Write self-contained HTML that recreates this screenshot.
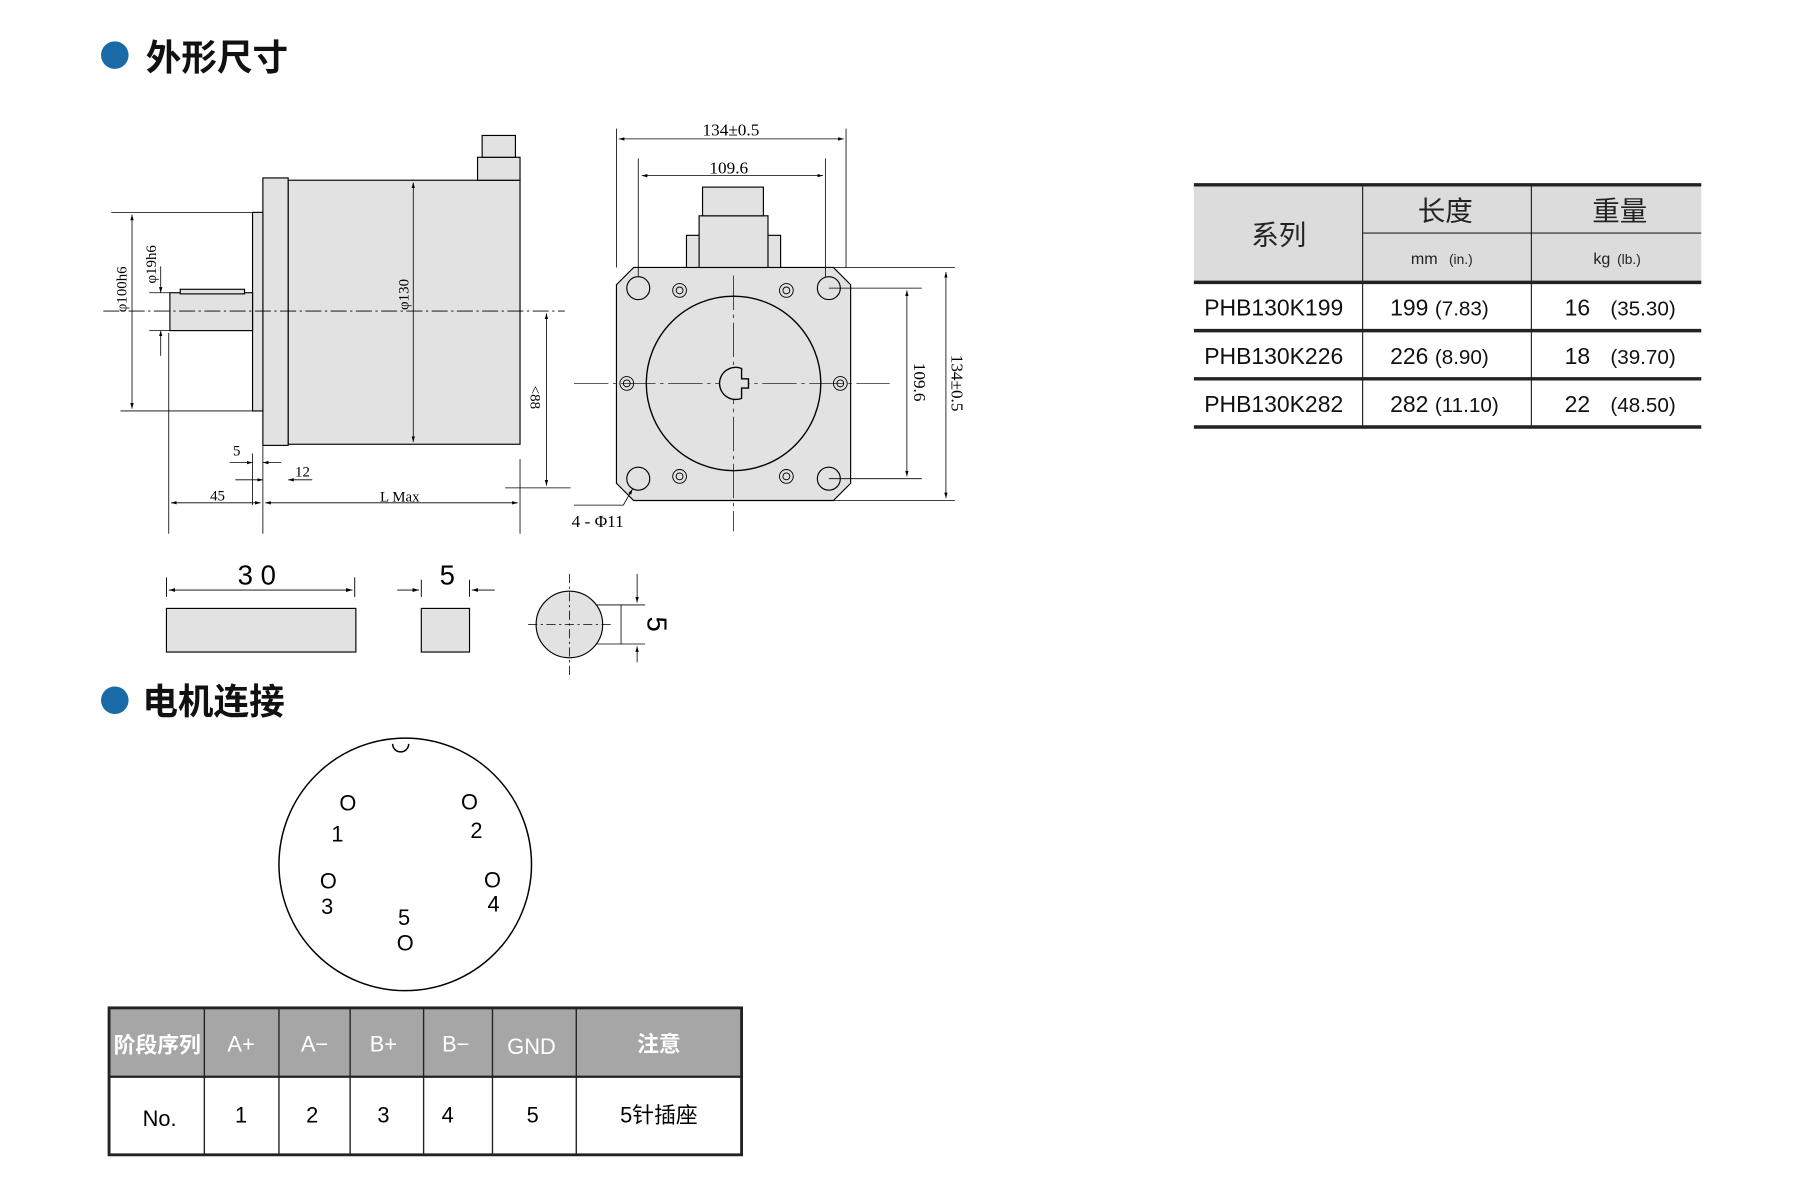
<!DOCTYPE html>
<html><head><meta charset="utf-8"><style>
html,body{margin:0;padding:0;background:#fff}
svg{display:block}
text{font-family:"Liberation Sans","Noto Sans CJK SC",sans-serif}
.s{font-family:"Liberation Serif","Noto Serif CJK SC",serif}
</style></head><body>
<svg width="1800" height="1195" viewBox="0 0 1568 1041" preserveAspectRatio="none" xmlns="http://www.w3.org/2000/svg">
<defs>
<marker id="a" viewBox="0 0 10 10" refX="10" refY="5" markerWidth="7" markerHeight="7" orient="auto-start-reverse"><path d="M0,2 L10,5 L0,8z" fill="#000"/></marker>
</defs>
<rect width="1568" height="1041" fill="#fff"/>
<circle cx="100" cy="48" r="12" fill="#1a6aa8"/>
<text x="127" y="61" font-size="31" font-weight="bold" fill="#111">外形尺寸</text>
<circle cx="100" cy="610" r="12" fill="#1a6aa8"/>
<text x="124" y="622" font-size="31" font-weight="bold" fill="#111">电机连接</text>

<g stroke="#000" stroke-width="1" fill="none">
<rect x="251" y="157" width="202" height="230" fill="#e2e2e2"/>
<rect x="229" y="155" width="22" height="233" fill="#e2e2e2"/>
<rect x="220" y="185" width="9" height="173" fill="#e2e2e2"/>
<rect x="148" y="255" width="72" height="33" fill="#e2e2e2"/>
<rect x="157" y="252" width="56" height="4" fill="#e2e2e2"/>
<rect x="416" y="137" width="37" height="20" fill="#e2e2e2"/>
<rect x="420" y="118" width="29" height="19" fill="#e2e2e2"/>
<line x1="90" y1="271" x2="492" y2="271" stroke-dasharray="14,3,2,3" stroke-width="0.8"/>
<line x1="97" y1="185" x2="220" y2="185" stroke-width="0.7"/>
<line x1="105" y1="358" x2="220" y2="358" stroke-width="0.7"/>
<line x1="115" y1="187" x2="115" y2="356" marker-start="url(#a)" marker-end="url(#a)" stroke-width="0.7"/>
<line x1="130" y1="255" x2="148" y2="255" stroke-width="0.7"/>
<line x1="130" y1="288" x2="148" y2="288" stroke-width="0.7"/>
<line x1="140" y1="232" x2="140" y2="255" marker-end="url(#a)" stroke-width="0.7"/>
<line x1="140" y1="310" x2="140" y2="288" marker-end="url(#a)" stroke-width="0.7"/>
<line x1="360" y1="159" x2="360" y2="385" marker-start="url(#a)" marker-end="url(#a)" stroke-width="0.7"/>
<line x1="476" y1="273" x2="476" y2="423" marker-start="url(#a)" marker-end="url(#a)" stroke-width="0.7"/>
<line x1="440" y1="425" x2="497" y2="425" stroke-width="0.7"/>
<line x1="147" y1="290" x2="147" y2="465" stroke-width="0.7"/>
<line x1="229" y1="388" x2="229" y2="465" stroke-width="0.7"/>
<line x1="453" y1="400" x2="453" y2="465" stroke-width="0.7"/>
<line x1="220" y1="395" x2="220" y2="440" stroke-width="0.7"/>
<line x1="149" y1="438" x2="227" y2="438" marker-start="url(#a)" marker-end="url(#a)" stroke-width="0.7"/>
<line x1="231" y1="438" x2="451" y2="438" marker-start="url(#a)" marker-end="url(#a)" stroke-width="0.7"/>
<line x1="200" y1="403" x2="220" y2="403" marker-end="url(#a)" stroke-width="0.7"/>
<line x1="245" y1="403" x2="229" y2="403" marker-end="url(#a)" stroke-width="0.7"/>
<line x1="205" y1="418" x2="229" y2="418" marker-end="url(#a)" stroke-width="0.7"/>
<line x1="272" y1="418" x2="251" y2="418" marker-end="url(#a)" stroke-width="0.7"/>

<path d="M552,233 L726,233 L741,248 L741,421 L726,436 L552,436 L537,421 L537,248Z" fill="#e2e2e2"/>
<rect x="598" y="205" width="82" height="28" fill="#e2e2e2"/>
<rect x="609" y="188" width="60" height="45" fill="#e2e2e2"/>
<rect x="612" y="163" width="53" height="25" fill="#e2e2e2"/>
<line x1="500" y1="334" x2="775" y2="334" stroke-dasharray="30,4,3,4" stroke-width="0.6"/>
<line x1="639" y1="240" x2="639" y2="463" stroke-dasharray="30,4,3,4" stroke-width="0.6"/>
<circle cx="639" cy="334" r="76" stroke-width="1.2"/>
<path d="M646,321 A14,14 0 1 0 646,347 L646,338 L652,338 L652,330 L646,330Z" fill="#e2e2e2" stroke-width="1.2"/>
<circle cx="556" cy="251" r="10"/><circle cx="722" cy="251" r="10"/>
<circle cx="556" cy="417" r="10"/><circle cx="722" cy="417" r="10"/>
<g stroke-width="0.8">
<circle cx="592" cy="253" r="6"/><circle cx="592" cy="253" r="3"/>
<circle cx="685" cy="253" r="6"/><circle cx="685" cy="253" r="3"/>
<circle cx="592" cy="415" r="6"/><circle cx="592" cy="415" r="3"/>
<circle cx="685" cy="415" r="6"/><circle cx="685" cy="415" r="3"/>
<circle cx="546" cy="334" r="6"/><circle cx="546" cy="334" r="3"/>
<circle cx="732" cy="334" r="6"/><circle cx="732" cy="334" r="3"/>
</g>
<g stroke-width="0.7">
<line x1="537" y1="112" x2="537" y2="233"/><line x1="737" y1="112" x2="737" y2="233"/>
<line x1="539" y1="121" x2="735" y2="121" marker-start="url(#a)" marker-end="url(#a)"/>
<line x1="556" y1="138" x2="556" y2="241"/><line x1="719" y1="138" x2="719" y2="241"/>
<line x1="559" y1="153" x2="717" y2="153" marker-start="url(#a)" marker-end="url(#a)"/>
<line x1="722" y1="251" x2="803" y2="251"/><line x1="722" y1="417" x2="803" y2="417"/>
<line x1="790" y1="253" x2="790" y2="415" marker-start="url(#a)" marker-end="url(#a)"/>
<line x1="720" y1="233" x2="832" y2="233"/><line x1="720" y1="436" x2="832" y2="436"/>
<line x1="824" y1="237" x2="824" y2="434" marker-start="url(#a)" marker-end="url(#a)"/>
<polyline points="500,440 543,440 551,426" marker-end="url(#a)"/>
</g>

<g stroke-width="0.8">
<line x1="145" y1="503" x2="145" y2="520"/><line x1="309" y1="503" x2="309" y2="520"/>
<line x1="147" y1="514" x2="307" y2="514" marker-start="url(#a)" marker-end="url(#a)"/>
<line x1="367" y1="505" x2="367" y2="520"/><line x1="409" y1="505" x2="409" y2="520"/>
<line x1="346" y1="514" x2="365" y2="514" marker-end="url(#a)"/>
<line x1="431" y1="514" x2="411" y2="514" marker-end="url(#a)"/>
</g>
<rect x="145" y="530" width="165" height="38" fill="#e2e2e2"/>
<rect x="367" y="530" width="42" height="38" fill="#e2e2e2"/>
<circle cx="496" cy="544" r="29" fill="#e2e2e2"/>
<g stroke-width="0.7">
<line x1="460" y1="544" x2="535" y2="544" stroke-dasharray="8,3,2,3"/>
<line x1="496" y1="500" x2="496" y2="590" stroke-dasharray="8,3,2,3"/>
<line x1="541" y1="527" x2="541" y2="561"/>
<line x1="520" y1="527" x2="562" y2="527"/><line x1="520" y1="561" x2="562" y2="561"/>
<line x1="555" y1="500" x2="555" y2="525" marker-end="url(#a)"/>
<line x1="555" y1="577" x2="555" y2="563" marker-end="url(#a)"/>
</g>

<circle cx="353" cy="753" r="110" stroke-width="1.3"/>
<path d="M342,648 A7,7 0 0 0 356,648" stroke-width="1.3" fill="#fff"/>
</g>

<g class="s" font-size="13" fill="#000">
<text transform="translate(110,272) rotate(-90)" class="s">φ100h6</text>
<text transform="translate(136,247) rotate(-90)" class="s">φ19h6</text>
<text transform="translate(356,270) rotate(-90)" class="s">φ130</text>
<text transform="translate(462,336) rotate(90)" class="s">&lt;88</text>
<text x="203" y="397" class="s">5</text>
<text x="257" y="415" class="s">12</text>
<text x="183" y="436" class="s">45</text>
<text x="331" y="437" class="s">L Max</text>
<text x="612" y="118" class="s" font-size="15">134±0.5</text>
<text x="618" y="151" class="s" font-size="15">109.6</text>
<text transform="translate(796,316) rotate(90)" class="s" font-size="15">109.6</text>
<text transform="translate(829,309) rotate(90)" class="s" font-size="15">134±0.5</text>
<text x="498" y="459" class="s" font-size="15">4 - Φ11</text>
</g>
<g font-size="24" fill="#000">
<text x="207" y="509">3 0</text>
<text x="383" y="509">5</text>
<text transform="translate(564,537) rotate(90)">5</text>
</g>
<g font-size="19" fill="#000" text-anchor="middle">
<text x="303" y="706">O</text><text x="409" y="705">O</text>
<text x="286" y="774">O</text><text x="429" y="773">O</text>
<text x="353" y="828">O</text>
<text x="294" y="733">1</text><text x="415" y="730">2</text>
<text x="285" y="796">3</text><text x="430" y="794">4</text>
<text x="352" y="806">5</text>
</g>

<rect x="95" y="878" width="551" height="60" fill="#a6a6a6"/>
<g stroke="#222" fill="none">
<rect x="95" y="878" width="551" height="128" stroke-width="2.5"/>
<line x1="95" y1="938" x2="646" y2="938" stroke-width="2"/>
<g stroke-width="1.2">
<line x1="178" y1="878" x2="178" y2="1006"/><line x1="243" y1="878" x2="243" y2="1006"/>
<line x1="305" y1="878" x2="305" y2="1006"/><line x1="369" y1="878" x2="369" y2="1006"/>
<line x1="429" y1="878" x2="429" y2="1006"/><line x1="502" y1="878" x2="502" y2="1006"/>
</g>
</g>
<g font-size="19" fill="#fff" text-anchor="middle">
<text x="137" y="917" font-weight="bold">阶段序列</text>
<text x="210" y="916">A+</text><text x="274" y="916">A−</text>
<text x="334" y="916">B+</text><text x="397" y="916">B−</text>
<text x="463" y="918">GND</text><text x="574" y="916" font-weight="bold">注意</text>
</g>
<g font-size="19" fill="#000" text-anchor="middle">
<text x="139" y="981">No.</text><text x="210" y="978">1</text><text x="272" y="978">2</text>
<text x="334" y="978">3</text><text x="390" y="978">4</text><text x="464" y="978">5</text>
<text x="574" y="978">5针插座</text>
</g>

<rect x="1040" y="161" width="442" height="85" fill="#dcdcdc"/>
<g stroke="#222" fill="none">
<line x1="1040" y1="161" x2="1482" y2="161" stroke-width="3"/>
<line x1="1187" y1="203" x2="1482" y2="203" stroke-width="1"/>
<line x1="1040" y1="246" x2="1482" y2="246" stroke-width="3"/>
<line x1="1040" y1="288" x2="1482" y2="288" stroke-width="3"/>
<line x1="1040" y1="330" x2="1482" y2="330" stroke-width="3"/>
<line x1="1040" y1="372" x2="1482" y2="372" stroke-width="3"/>
<line x1="1187" y1="161" x2="1187" y2="372" stroke-width="1"/>
<line x1="1334" y1="161" x2="1334" y2="372" stroke-width="1"/>
</g>
<g fill="#222" text-anchor="middle" font-size="24">
<text x="1114" y="213">系列</text>
<text x="1259" y="192">长度</text>
<text x="1411" y="192">重量</text>
</g>
<g fill="#222" font-size="14">
<text x="1229" y="230">mm <tspan font-size="12" dx="6">(in.)</tspan></text>
<text x="1388" y="230">kg <tspan font-size="12" dx="2">(lb.)</tspan></text>
</g>
<g fill="#111" font-size="20">
<text x="1049" y="275">PHB130K199</text><text x="1211" y="275">199 <tspan font-size="18">(7.83)</tspan></text><text x="1363" y="275">16 <tspan font-size="18" dx="12">(35.30)</tspan></text>
<text x="1049" y="317">PHB130K226</text><text x="1211" y="317">226 <tspan font-size="18">(8.90)</tspan></text><text x="1363" y="317">18 <tspan font-size="18" dx="12">(39.70)</tspan></text>
<text x="1049" y="359">PHB130K282</text><text x="1211" y="359">282 <tspan font-size="18">(11.10)</tspan></text><text x="1363" y="359">22 <tspan font-size="18" dx="12">(48.50)</tspan></text>
</g>
</svg>
</body></html>
